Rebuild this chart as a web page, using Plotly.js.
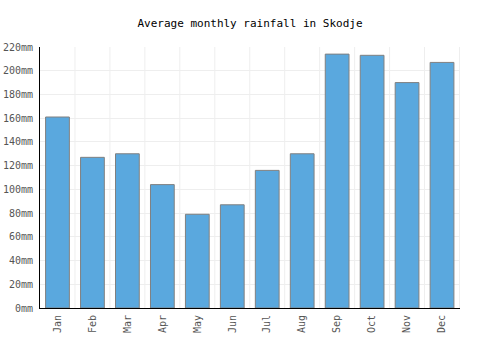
<!DOCTYPE html>
<html>
<head>
<meta charset="utf-8">
<script src="https://cdn.plot.ly/plotly-3.0.1.min.js"></script>
<style>html,body{margin:0;padding:0;background:#fff;}#chart{width:500px;height:350px;}</style>
</head>
<body>
<div id="chart"></div>
<script>
const months = ["Jan","Feb","Mar","Apr","May","Jun","Jul","Aug","Sep","Oct","Nov","Dec"];
const rainfall = [161, 127, 130, 104, 79, 87, 116, 130, 214, 213, 190, 207];
const yTicks = [0,20,40,60,80,100,120,140,160,180,200,220];
const yTickText = yTicks.map(v => v + "mm");

const font = "DejaVu Sans Mono, monospace";
const gridShapes = [];
for (let i = 0; i < months.length; i++) {
  gridShapes.push({
    type: "line", xref: "x", yref: "paper", x0: i + 0.5, x1: i + 0.5, y0: 0, y1: 1,
    line: {color: "#eeeeee", width: 1}, layer: "below"
  });
}
Plotly.newPlot("chart", [{
  type: "bar",
  x: months,
  y: rainfall,
  marker: {color: "#5aa8de", line: {color: "#808080", width: 1}},
  hoverinfo: "x+y"
}], {
  width: 500, height: 350,
  margin: {l: 40, r: 40, t: 47, b: 42},
  paper_bgcolor: "#fff", plot_bgcolor: "#fff",
  bargap: 0.32,
  showlegend: false,
  title: {text: "Average monthly rainfall in Skodje", font: {family: font, size: 11, color: "#000"}, x: 0.5, xanchor: "center", y: 0.935, yanchor: "middle"},
  xaxis: {
    type: "category",
    showline: true, linecolor: "#000", linewidth: 1,
    showgrid: false,
    tickangle: -90,
    tickfont: {family: font, size: 10, color: "#555"},
    ticks: "", ticklen: 0,
    ticklabelstandoff: 2
  },
  yaxis: {
    range: [0, 220],
    tickmode: "array",
    tickvals: yTicks,
    ticktext: yTickText,
    showline: true, linecolor: "#000", linewidth: 1,
    gridcolor: "#eeeeee", gridwidth: 1,
    zeroline: false,
    tickfont: {family: font, size: 10, color: "#555"},
    ticks: "",
    ticklabelstandoff: 4
  },
  shapes: gridShapes
}, {displayModeBar: false, staticPlot: true});
</script>
</body>
</html>
